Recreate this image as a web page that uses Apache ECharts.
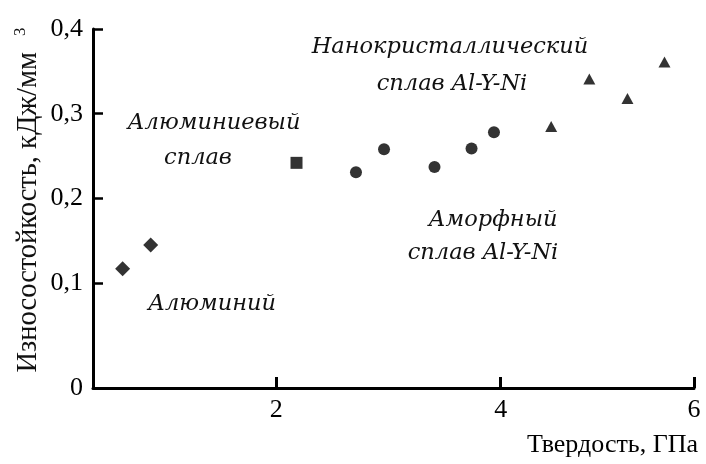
<!DOCTYPE html>
<html>
<head>
<meta charset="utf-8">
<script src="https://cdn.jsdelivr.net/npm/echarts@6/dist/echarts.min.js"></script>
<style>html,body{margin:0;padding:0;background:#fff;}#c{width:706px;height:464px;}</style>
</head>
<body>
<div id="c"></div>
<script>
// ---- data (hardness, GPa ; wear resistance, kJ/mm^3) ----
const aluminiumX = [0.63, 0.88];
const aluminiumY = [0.117, 0.145];
const alAlloyX = [2.18];
const alAlloyY = [0.242];
const amorphousX = [2.71, 2.96, 3.41, 3.74, 3.94];
const amorphousY = [0.231, 0.258, 0.237, 0.259, 0.278];
const nanoX = [4.45, 4.79, 5.13, 5.46];
const nanoY = [0.285, 0.341, 0.318, 0.361];

const xTickValues = [2, 4];
const xTickLabels = ['2', '4', '6'];
const yTickValues = [0.1, 0.2, 0.3, 0.4];
const yTickLabels = ['0', '0,1', '0,2', '0,3', '0,4'];

const xName = 'Твердость, ГПа';
const yName = 'Износостойкость, кДж/мм';
const notes = ['Алюминиевый', 'сплав', 'Алюминий', 'Нанокристаллический', 'сплав Al-Y-Ni', 'Аморфный', 'сплав Al-Y-Ni'];

// axis extents as drawn in the (non-uniform) original figure
const X_MIN = 0.366, X_MAX = 5.723;
const Y_MIN = -0.0238, Y_MAX = 0.4;

const zip = (xs, ys) => xs.map((x, i) => [x, ys[i]]);
const chart = echarts.init(document.getElementById('c'), null, {renderer: 'canvas'});

const labelFont = {fontFamily: 'Liberation Serif', fontSize: 26, color: '#000'};
const noteFont = {fontFamily: 'DejaVu Serif', fontStyle: 'italic', fontSize: 22.5, fill: '#111'};

const mk = (name, xs, ys, symbol, size) => ({
  type: 'scatter', name, data: zip(xs, ys), symbol, symbolSize: size,
  itemStyle: {color: '#000'}, animation: false, z: 5
});

const noteEl = (text, x, y) => ({
  type: 'text', x, y, silent: true,
  style: Object.assign({text, textAlign: 'center', textVerticalAlign: 'middle'}, noteFont)
});

chart.setOption({
  animation: false,
  backgroundColor: '#fff',
  grid: {left: 93, top: 29, right: 12, bottom: 76, containLabel: false, outerBoundsMode: 'none'},
  xAxis: {
    type: 'value', min: X_MIN, max: X_MAX,
    axisLine: {show: true, onZero: false, lineStyle: {color: '#000', width: 3}},
    axisTick: {show: true, inside: true, length: 11, lineStyle: {color: '#000', width: 3},
      customValues: xTickValues.concat([X_MAX])},
    axisLabel: Object.assign({show: true, margin: 9, showMinLabel: true, showMaxLabel: true,
      customValues: xTickValues.concat([X_MAX]),
      formatter: (v) => v >= X_MAX - 1e-6 ? xTickLabels[2] : xTickLabels[xTickValues.indexOf(v)]}, labelFont),
    splitLine: {show: false},
    name: xName, nameLocation: 'end', nameGap: 4,
    nameTextStyle: Object.assign({align: 'right', verticalAlign: 'top', padding: [44, 0, 0, 0]}, labelFont)
  },
  yAxis: {
    type: 'value', min: Y_MIN, max: Y_MAX,
    axisLine: {show: true, onZero: false, lineStyle: {color: '#000', width: 3}},
    axisTick: {show: true, inside: true, length: 10, lineStyle: {color: '#000', width: 2.5},
      customValues: yTickValues},
    axisLabel: Object.assign({show: true, margin: 10, showMinLabel: true, showMaxLabel: true,
      customValues: [Y_MIN].concat(yTickValues),
      formatter: (v) => v <= Y_MIN + 1e-6 ? yTickLabels[0] : yTickLabels[yTickValues.indexOf(v) + 1]}, labelFont),
    splitLine: {show: false}
  },
  series: [
    mk('Алюминий', aluminiumX, aluminiumY, 'diamond', [15, 15]),
    mk('Алюминиевый сплав', alAlloyX, alAlloyY, 'rect', [12, 12]),
    mk('Аморфный сплав Al-Y-Ni', amorphousX, amorphousY, 'circle', 12),
    mk('Нанокристаллический сплав Al-Y-Ni', nanoX, nanoY, 'triangle', [12, 11])
  ],
  graphic: [
    noteEl(notes[0], 214, 123),
    noteEl(notes[1], 198, 158),
    noteEl(notes[2], 212, 304),
    noteEl(notes[3], 450, 47),
    noteEl(notes[4], 452, 84),
    noteEl(notes[5], 493, 220),
    noteEl(notes[6], 483, 253),
    {
      type: 'text', x: 29, y: 200, rotation: Math.PI / 2, silent: true,
      style: {
        text: '{a|' + yName + '}{s|3}',
        textAlign: 'center', textVerticalAlign: 'middle',
        rich: {
          a: {fontFamily: 'Liberation Serif', fontSize: 28.5, fill: '#111'},
          s: {fontFamily: 'Liberation Serif', fontSize: 17, fill: '#111', verticalAlign: 'bottom', padding: [0, 0, 16, 16]}
        }
      }
    }
  ]
});
</script>
</body>
</html>
